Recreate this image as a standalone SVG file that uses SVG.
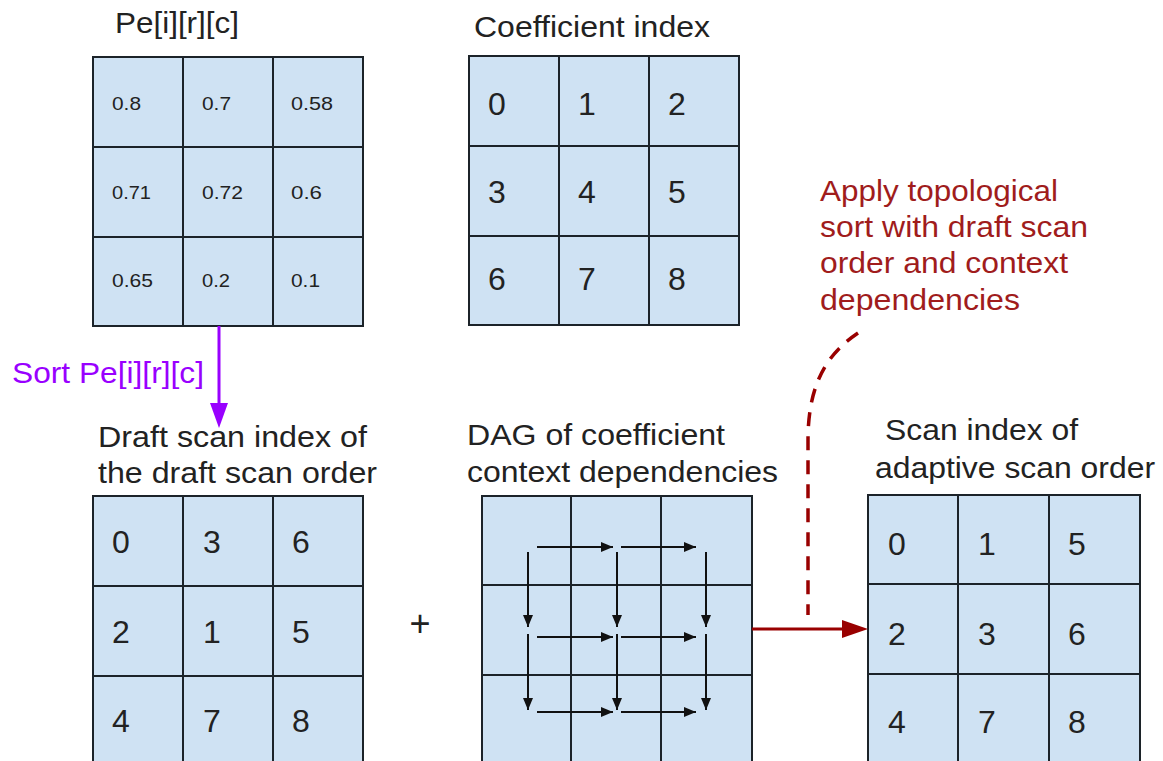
<svg xmlns="http://www.w3.org/2000/svg" width="1163" height="761" viewBox="0 0 1163 761">
<defs>
<style>
.cell{fill:#cfe2f3;stroke:#1c2329;stroke-width:2}
.gl{stroke:#1c2329;stroke-width:2;fill:none}
.lbl{font-family:"Liberation Sans",Arial,sans-serif;font-size:29px;fill:#222}
.dg{font-family:"Liberation Sans",Arial,sans-serif;font-size:32px;fill:#222}
.sm{font-family:"Liberation Sans",Arial,sans-serif;font-size:19px;fill:#222}
.red{font-family:"Liberation Sans",Arial,sans-serif;font-size:29px;fill:#a01c1c}
.dag{stroke:#111;stroke-width:2;fill:none;marker-end:url(#ah)}
</style>
<marker id="ah" markerUnits="userSpaceOnUse" markerWidth="13" markerHeight="11" refX="12" refY="5" orient="auto">
<path d="M0,0 L12,5 L0,10 z" fill="#111"/>
</marker>
</defs>
<rect width="1163" height="761" fill="#fff"/>

<g id="pe-grid">
<text class="lbl" x="115" y="33" textLength="124" lengthAdjust="spacingAndGlyphs">Pe[i][r][c]</text>
<rect class="cell" x="93" y="57" width="270" height="269"/>
<path class="gl" d="M183,57V326M273,57V326M93,147H363M93,237H363"/>
<text class="sm" x="112" y="110" textLength="29" lengthAdjust="spacingAndGlyphs">0.8</text>
<text class="sm" x="202" y="110" textLength="29" lengthAdjust="spacingAndGlyphs">0.7</text>
<text class="sm" x="291" y="110" textLength="42" lengthAdjust="spacingAndGlyphs">0.58</text>
<text class="sm" x="112" y="199" textLength="39" lengthAdjust="spacingAndGlyphs">0.71</text>
<text class="sm" x="202" y="199" textLength="41" lengthAdjust="spacingAndGlyphs">0.72</text>
<text class="sm" x="291" y="199" textLength="31" lengthAdjust="spacingAndGlyphs">0.6</text>
<text class="sm" x="112" y="287" textLength="41" lengthAdjust="spacingAndGlyphs">0.65</text>
<text class="sm" x="202" y="287" textLength="28" lengthAdjust="spacingAndGlyphs">0.2</text>
<text class="sm" x="291" y="287" textLength="29" lengthAdjust="spacingAndGlyphs">0.1</text>
</g>

<g id="coef-grid">
<text class="lbl" x="474" y="37" textLength="236" lengthAdjust="spacingAndGlyphs">Coefficient index</text>
<rect class="cell" x="469" y="56" width="270" height="269"/>
<path class="gl" d="M559,56V325M649,56V325M469,146H739M469,236H739"/>
<text class="dg" x="488" y="115">0</text>
<text class="dg" x="578" y="115">1</text>
<text class="dg" x="668" y="115">2</text>
<text class="dg" x="488" y="203">3</text>
<text class="dg" x="578" y="203">4</text>
<text class="dg" x="668" y="203">5</text>
<text class="dg" x="488" y="290">6</text>
<text class="dg" x="578" y="290">7</text>
<text class="dg" x="668" y="290">8</text>
</g>

<g id="draft-grid">
<text class="lbl" x="98" y="447" textLength="269" lengthAdjust="spacingAndGlyphs">Draft scan index of</text>
<text class="lbl" x="98" y="483" textLength="279" lengthAdjust="spacingAndGlyphs">the draft scan order</text>
<rect class="cell" x="93" y="496" width="270" height="270"/>
<path class="gl" d="M183,496V766M273,496V766M93,586H363M93,676H363"/>
<text class="dg" x="112" y="553">0</text>
<text class="dg" x="203" y="553">3</text>
<text class="dg" x="292" y="553">6</text>
<text class="dg" x="112" y="643">2</text>
<text class="dg" x="203" y="643">1</text>
<text class="dg" x="292" y="643">5</text>
<text class="dg" x="112" y="732">4</text>
<text class="dg" x="203" y="732">7</text>
<text class="dg" x="292" y="732">8</text>
</g>

<g id="plus">
<text x="420" y="636" text-anchor="middle" font-family="Liberation Sans, Arial, sans-serif" font-size="36" fill="#222">+</text>
</g>

<g id="dag-grid">
<text class="lbl" x="467" y="445" textLength="258" lengthAdjust="spacingAndGlyphs">DAG of coefficient</text>
<text class="lbl" x="467" y="482" textLength="311" lengthAdjust="spacingAndGlyphs">context dependencies</text>
<rect class="cell" x="482" y="496" width="270" height="270"/>
<path class="gl" d="M571,496V766M661,496V766M482,585H752M482,675H752"/>
<g id="dag-edges">
<path class="dag" d="M537,547H613"/>
<path class="dag" d="M621,547H696"/>
<path class="dag" d="M537,637H613"/>
<path class="dag" d="M621,637H696"/>
<path class="dag" d="M537,712H613"/>
<path class="dag" d="M621,712H696"/>
<path class="dag" d="M528,552V627"/>
<path class="dag" d="M528,634V710"/>
<path class="dag" d="M617,552V627"/>
<path class="dag" d="M617,634V710"/>
<path class="dag" d="M706,552V627"/>
<path class="dag" d="M706,634V710"/>
</g>
</g>

<g id="adaptive-grid">
<text class="lbl" x="885" y="440" textLength="193" lengthAdjust="spacingAndGlyphs">Scan index of</text>
<text class="lbl" x="875" y="478" textLength="280" lengthAdjust="spacingAndGlyphs">adaptive scan order</text>
<rect class="cell" x="868" y="495" width="272" height="271"/>
<path class="gl" d="M958,495V766M1049,495V766M868,584H1140M868,674H1140"/>
<text class="dg" x="888" y="555">0</text>
<text class="dg" x="978" y="555">1</text>
<text class="dg" x="1068" y="555">5</text>
<text class="dg" x="888" y="645">2</text>
<text class="dg" x="978" y="645">3</text>
<text class="dg" x="1068" y="645">6</text>
<text class="dg" x="888" y="733">4</text>
<text class="dg" x="978" y="733">7</text>
<text class="dg" x="1068" y="733">8</text>
</g>

<g id="topo-note">
<text class="red" x="820" y="201" textLength="238" lengthAdjust="spacingAndGlyphs">Apply topological</text>
<text class="red" x="820" y="237" textLength="268" lengthAdjust="spacingAndGlyphs">sort with draft scan</text>
<text class="red" x="820" y="273" textLength="248" lengthAdjust="spacingAndGlyphs">order and context</text>
<text class="red" x="820" y="310" textLength="200" lengthAdjust="spacingAndGlyphs">dependencies</text>
</g>

<g id="connectors">
<line x1="219" y1="326" x2="219" y2="406" stroke="#9900ff" stroke-width="3"/>
<polygon points="210,403 228,403 219,428" fill="#9900ff"/>
<text x="12" y="383" font-family="Liberation Sans, Arial, sans-serif" font-size="29" fill="#9900ff" textLength="192" lengthAdjust="spacingAndGlyphs">Sort Pe[i][r][c]</text>
<line x1="752" y1="629" x2="846" y2="629" stroke="#990000" stroke-width="3"/>
<polygon points="842,620 868,629 842,638" fill="#990000"/>
<path d="M858,333 C830,352 808,380 808,440 L808,615" fill="none" stroke="#990000" stroke-width="3.5" stroke-dasharray="14 10"/>
</g>
</svg>
